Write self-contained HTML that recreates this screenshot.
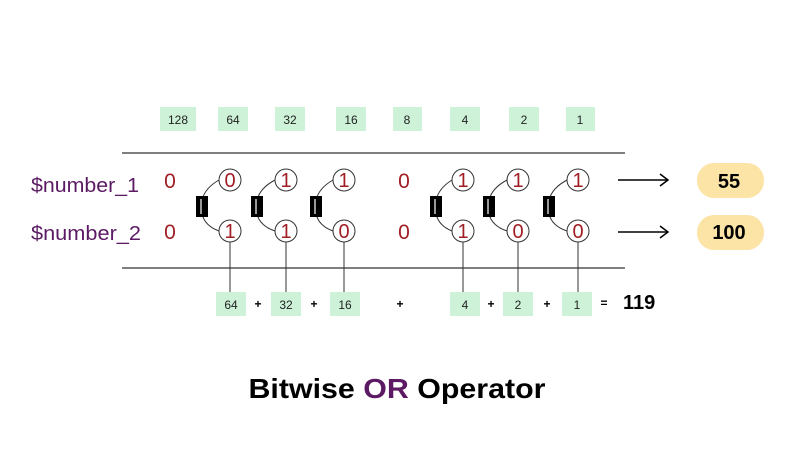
<!DOCTYPE html>
<html><head><meta charset="utf-8"><style>
html,body{margin:0;padding:0;background:#fff;}
svg{display:block;font-family:"Liberation Sans",sans-serif;}
</style></head><body>
<svg width="800" height="471" viewBox="0 0 800 471" xmlns="http://www.w3.org/2000/svg">
<rect width="800" height="471" fill="#fff"/>
<g fill="#cdf2d8">
<rect x="160" y="107" width="36" height="24"/>
<rect x="218" y="107" width="30" height="24"/>
<rect x="275" y="107" width="30" height="24"/>
<rect x="336" y="107" width="30" height="24"/>
<rect x="393" y="107" width="29" height="24"/>
<rect x="450" y="107" width="30" height="24"/>
<rect x="509" y="107" width="30" height="24"/>
<rect x="566" y="107" width="29" height="24"/>
</g>
<g font-size="12" fill="#222" text-anchor="middle">
<text x="178" y="124">128</text><text x="233" y="124">64</text><text x="290" y="124">32</text><text x="351" y="124">16</text>
<text x="407" y="124">8</text><text x="465" y="124">4</text><text x="524" y="124">2</text><text x="580" y="124">1</text>
</g>
<line x1="122" y1="153" x2="625" y2="153" stroke="#333" stroke-width="1.3"/>
<line x1="122" y1="268" x2="625" y2="268" stroke="#333" stroke-width="1.3"/>
<g font-size="20" fill="#5b1a63">
<text x="31" y="192" textLength="108" lengthAdjust="spacingAndGlyphs">$number_1</text><text x="31" y="240" textLength="110" lengthAdjust="spacingAndGlyphs">$number_2</text>
</g>
<g font-size="21" fill="#a01e24" text-anchor="middle">
<text x="170" y="188">0</text><text x="170" y="239">0</text>
<text x="404" y="188">0</text><text x="404" y="239">0</text>
</g>
<g stroke="#333" stroke-width="1" fill="none">
<path d="M202 200 Q205 188 219 180"/><path d="M202 214 Q205 226 219 231"/><line x1="230" y1="242" x2="230" y2="292"/>
<path d="M257 200 Q260 188 275 180"/><path d="M257 214 Q260 226 275 231"/><line x1="286" y1="242" x2="286" y2="292"/>
<path d="M316 200 Q319 188 333 180"/><path d="M316 214 Q319 226 333 231"/><line x1="344" y1="242" x2="344" y2="292"/>
<path d="M436 200 Q439 188 452 180"/><path d="M436 214 Q439 226 452 231"/><line x1="463" y1="242" x2="463" y2="292"/>
<path d="M489 200 Q492 188 507 180"/><path d="M489 214 Q492 226 507 231"/><line x1="518" y1="242" x2="518" y2="292"/>
<path d="M549 200 Q552 188 567 180"/><path d="M549 214 Q552 226 567 231"/><line x1="578" y1="242" x2="578" y2="292"/>
</g>
<g stroke="#333" stroke-width="1" fill="#fff">
<circle cx="230" cy="180" r="11"/><circle cx="230" cy="231" r="11"/>
<circle cx="286" cy="180" r="11"/><circle cx="286" cy="231" r="11"/>
<circle cx="344" cy="180" r="11"/><circle cx="344" cy="231" r="11"/>
<circle cx="463" cy="180" r="11"/><circle cx="463" cy="231" r="11"/>
<circle cx="518" cy="180" r="11"/><circle cx="518" cy="231" r="11"/>
<circle cx="578" cy="180" r="11"/><circle cx="578" cy="231" r="11"/>
</g>
<g font-size="20" fill="#a01e24" text-anchor="middle">
<text x="230" y="187">0</text><text x="230" y="238">1</text>
<text x="286" y="187">1</text><text x="286" y="238">1</text>
<text x="344" y="187">1</text><text x="344" y="238">0</text>
<text x="463" y="187">1</text><text x="463" y="238">1</text>
<text x="518" y="187">1</text><text x="518" y="238">0</text>
<text x="578" y="187">1</text><text x="578" y="238">0</text>
</g>
<g fill="#000">
<rect x="196" y="196" width="12" height="21"/><rect x="251" y="196" width="12" height="21"/><rect x="310" y="196" width="12" height="21"/>
<rect x="430" y="196" width="12" height="21"/><rect x="483" y="196" width="12" height="21"/><rect x="543" y="196" width="12" height="21"/>
</g>
<g stroke="#ccc" stroke-width="1.5">
<line x1="201" y1="199" x2="201" y2="214"/><line x1="256" y1="199" x2="256" y2="214"/><line x1="315" y1="199" x2="315" y2="214"/>
<line x1="435" y1="199" x2="435" y2="214"/><line x1="488" y1="199" x2="488" y2="214"/><line x1="548" y1="199" x2="548" y2="214"/>
</g>
<g fill="#cdf2d8">
<rect x="216" y="292" width="30" height="24"/><rect x="271" y="292" width="30" height="24"/><rect x="330" y="292" width="30" height="24"/>
<rect x="450" y="292" width="30" height="24"/><rect x="503" y="292" width="30" height="24"/><rect x="562" y="292" width="30" height="24"/>
</g>
<g font-size="12" fill="#222" text-anchor="middle">
<text x="231" y="309">64</text><text x="286" y="309">32</text><text x="345" y="309">16</text>
<text x="465" y="309">4</text><text x="518" y="309">2</text><text x="577" y="309">1</text>
</g>
<g font-size="12" font-weight="bold" fill="#000" text-anchor="middle">
<text x="258" y="308">+</text><text x="314" y="308">+</text><text x="400" y="308">+</text><text x="491" y="308">+</text><text x="547" y="308">+</text><text x="604" y="307">=</text>
</g>
<text x="623" y="309" font-size="20" font-weight="bold" fill="#000">119</text>
<g stroke="#000" stroke-width="1.5" fill="none">
<line x1="618" y1="180" x2="667" y2="180"/><path d="M660 174 L668 180 L660 186"/>
<line x1="618" y1="232" x2="667" y2="232"/><path d="M660 226 L668 232 L660 238"/>
</g>
<rect x="697" y="163" width="67" height="35" rx="17" fill="#fce3a6"/>
<rect x="697" y="215" width="67" height="35" rx="17" fill="#fce3a6"/>
<g font-size="20" font-weight="bold" fill="#000" text-anchor="middle">
<text x="729" y="188">55</text><text x="729" y="239">100</text>
</g>
<text x="397" y="398" font-size="28" font-weight="bold" text-anchor="middle" textLength="297" lengthAdjust="spacingAndGlyphs" fill="#000">Bitwise <tspan fill="#5b1a63">OR</tspan> Operator</text>
</svg>
</body></html>
